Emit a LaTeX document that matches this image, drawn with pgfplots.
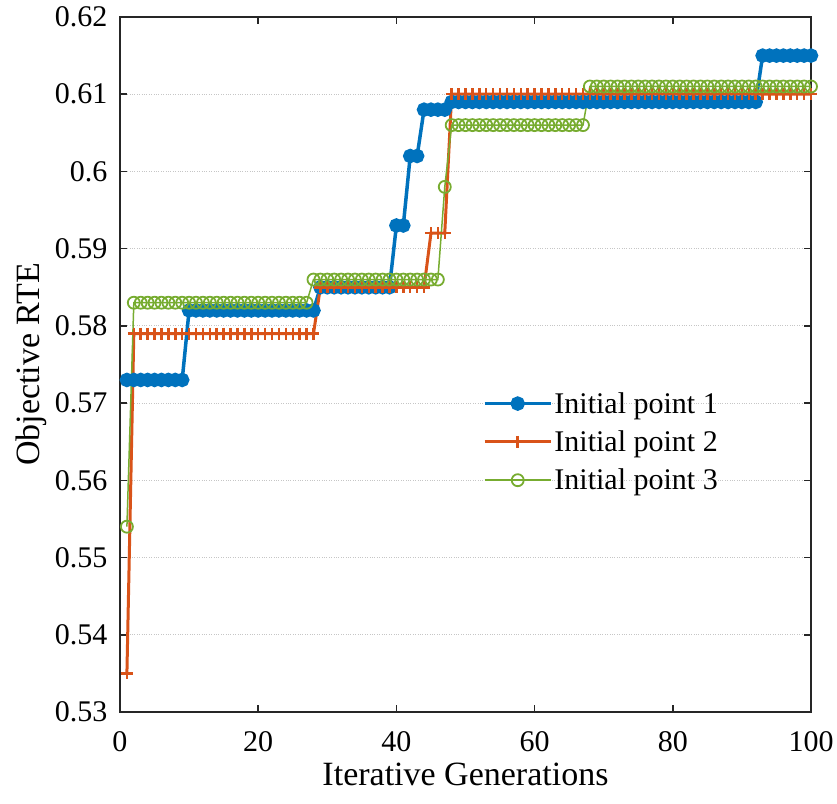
\documentclass[border=0pt]{standalone}
\usepackage{fontspec}
\setmainfont{Liberation Serif}
\usepackage{pgfplots}
\usepackage{pgfplotstable}
\pgfplotsset{compat=1.18}
\definecolor{mblue}{HTML}{0072BD}
\definecolor{morange}{HTML}{D95319}
\definecolor{mgreen}{HTML}{77AC30}

% generation, initial point 1, 2, 3
\pgfplotstableread{
gen  a      b      c
1    0.573  0.535  0.554
2    0.573  0.579  0.583
3    0.573  0.579  0.583
4    0.573  0.579  0.583
5    0.573  0.579  0.583
6    0.573  0.579  0.583
7    0.573  0.579  0.583
8    0.573  0.579  0.583
9    0.573  0.579  0.583
10   0.582  0.579  0.583
11   0.582  0.579  0.583
12   0.582  0.579  0.583
13   0.582  0.579  0.583
14   0.582  0.579  0.583
15   0.582  0.579  0.583
16   0.582  0.579  0.583
17   0.582  0.579  0.583
18   0.582  0.579  0.583
19   0.582  0.579  0.583
20   0.582  0.579  0.583
21   0.582  0.579  0.583
22   0.582  0.579  0.583
23   0.582  0.579  0.583
24   0.582  0.579  0.583
25   0.582  0.579  0.583
26   0.582  0.579  0.583
27   0.582  0.579  0.583
28   0.582  0.579  0.586
29   0.585  0.585  0.586
30   0.585  0.585  0.586
31   0.585  0.585  0.586
32   0.585  0.585  0.586
33   0.585  0.585  0.586
34   0.585  0.585  0.586
35   0.585  0.585  0.586
36   0.585  0.585  0.586
37   0.585  0.585  0.586
38   0.585  0.585  0.586
39   0.585  0.585  0.586
40   0.593  0.585  0.586
41   0.593  0.585  0.586
42   0.602  0.585  0.586
43   0.602  0.585  0.586
44   0.608  0.585  0.586
45   0.608  0.592  0.586
46   0.608  0.592  0.586
47   0.608  0.592  0.598
48   0.609  0.610  0.606
49   0.609  0.610  0.606
50   0.609  0.610  0.606
51   0.609  0.610  0.606
52   0.609  0.610  0.606
53   0.609  0.610  0.606
54   0.609  0.610  0.606
55   0.609  0.610  0.606
56   0.609  0.610  0.606
57   0.609  0.610  0.606
58   0.609  0.610  0.606
59   0.609  0.610  0.606
60   0.609  0.610  0.606
61   0.609  0.610  0.606
62   0.609  0.610  0.606
63   0.609  0.610  0.606
64   0.609  0.610  0.606
65   0.609  0.610  0.606
66   0.609  0.610  0.606
67   0.609  0.610  0.606
68   0.609  0.610  0.611
69   0.609  0.610  0.611
70   0.609  0.610  0.611
71   0.609  0.610  0.611
72   0.609  0.610  0.611
73   0.609  0.610  0.611
74   0.609  0.610  0.611
75   0.609  0.610  0.611
76   0.609  0.610  0.611
77   0.609  0.610  0.611
78   0.609  0.610  0.611
79   0.609  0.610  0.611
80   0.609  0.610  0.611
81   0.609  0.610  0.611
82   0.609  0.610  0.611
83   0.609  0.610  0.611
84   0.609  0.610  0.611
85   0.609  0.610  0.611
86   0.609  0.610  0.611
87   0.609  0.610  0.611
88   0.609  0.610  0.611
89   0.609  0.610  0.611
90   0.609  0.610  0.611
91   0.609  0.610  0.611
92   0.609  0.610  0.611
93   0.615  0.610  0.611
94   0.615  0.610  0.611
95   0.615  0.610  0.611
96   0.615  0.610  0.611
97   0.615  0.610  0.611
98   0.615  0.610  0.611
99   0.615  0.610  0.611
100  0.615  0.610  0.611
}\rte

\begin{document}
\begin{tikzpicture}
\begin{axis}[
    name=ax,
    scale only axis,
    width=691pt, height=695pt,
    xmin=0, xmax=100,
    ymin=0.53, ymax=0.62,
    xtick={0,20,40,60,80,100},
    ytick={0.53,0.54,0.55,0.56,0.57,0.58,0.59,0.6,0.61,0.62},
    yticklabel style={xshift=-9pt, /pgf/number format/.cd, fixed, precision=2},
    xticklabel style={yshift=-16pt},
    xlabel style={yshift=-4pt, font=\fontsize{34}{40}\selectfont},
    ylabel style={font=\fontsize{34}{40}\selectfont},
    ylabel shift=1pt,
    /pgf/number format/assume math mode=true,
    font=\fontsize{30}{36}\selectfont,
    tick align=inside,
    major tick length=7pt,
    tick style={line width=1.5pt, black!85},
    axis line style={line width=1.5pt, black!85},
    ymajorgrids,
    grid style={dotted, gray!45, line width=1.2pt},
    xlabel={Iterative Generations},
    ylabel={Objective RTE},
    legend style={at={(0.525,0.463)}, anchor=north west, draw=none, fill=none,
        inner sep=0pt, row sep=12pt},
    legend cell align=left,
    legend image code/.code={
        \draw[mark repeat=2, mark phase=2, #1] plot coordinates {(0pt,0pt) (33pt,0pt) (66pt,0pt)};
    },
]
\addplot[mblue, line width=3.5pt, mark=*, mark size=5.5pt] table[x=gen, y=a] {\rte};
\addlegendentry{Initial point 1}
\addplot[morange, line width=3pt, mark=+, mark size=6pt, mark options={line width=2.5pt}] table[x=gen, y=b] {\rte};
\addlegendentry{Initial point 2}
\addplot[mgreen, line width=1.5pt, mark=o, mark size=6pt, mark options={line width=1.8pt}] table[x=gen, y=c] {\rte};
\addlegendentry{Initial point 3}
\end{axis}
\pgfresetboundingbox
\path[use as bounding box] ([xshift=-120pt,yshift=-91pt]ax.south west) rectangle ([xshift=26pt,yshift=17pt]ax.north east);
\end{tikzpicture}
\end{document}
